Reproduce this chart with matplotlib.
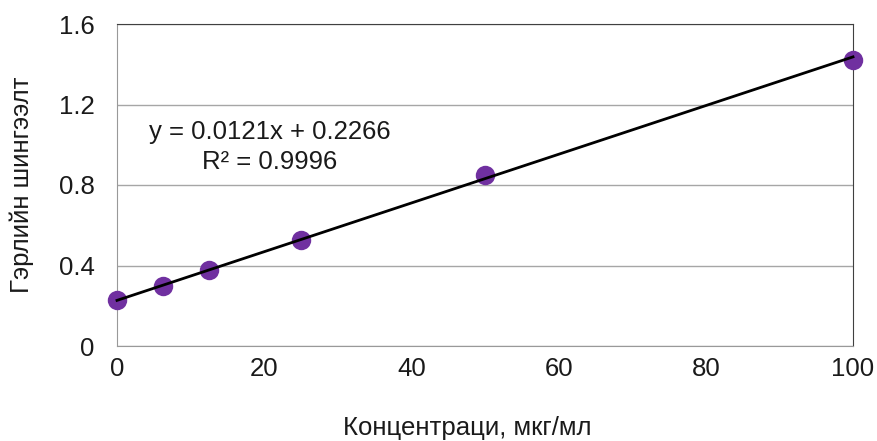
import numpy as np
import matplotlib.pyplot as plt

plt.rcParams['font.family'] = ['Liberation Sans', 'DejaVu Sans']

konc = [0, 6.25, 12.5, 25, 50, 100]
shingeelt = [0.229, 0.298, 0.378, 0.527, 0.851, 1.423]
x_ticks = [0, 20, 40, 60, 80, 100]
y_ticks = [0, 0.4, 0.8, 1.2, 1.6]
y_tick_labels = ["0", "0.4", "0.8", "1.2", "1.6"]

fs = 18.5
txt = "#1a1a1a"

fig = plt.figure(figsize=(8.78, 4.41), dpi=100)
ax = fig.add_axes([117 / 878, 1 - 346 / 441, (853 - 117) / 878, (346 - 24) / 441])

ax.set_xlim(0, 100)
ax.set_ylim(0, 1.6)
ax.set_xticks(x_ticks)
ax.set_yticks(y_ticks)
ax.set_yticklabels(y_tick_labels)
ax.tick_params(length=0, labelsize=fs, colors=txt)
ax.tick_params(axis="y", pad=16)
ax.tick_params(axis="x", pad=8)
ax.grid(axis="y", color="#a6a6a6", linewidth=1)
ax.set_axisbelow(True)
for side in ["left", "bottom"]:
    ax.spines[side].set_color("#999999")
for side in ["top", "right"]:
    ax.spines[side].set_color("#404040")

# линейн тренд
a, b = 0.0121, 0.2266
xs = np.array([0, 100])
ax.plot(konc, shingeelt, "o", color="#7030a0", markersize=14, markeredgewidth=0, zorder=3, clip_on=False)
ax.plot(xs, a * xs + b, color="black", linewidth=2, zorder=4, clip_on=False)

ax.text(20.7, 1.065, "y = 0.0121x + 0.2266", ha="center", va="center", fontsize=fs, color=txt)
ax.text(20.7, 0.915, "R² = 0.9996", ha="center", va="center", fontsize=fs, color=txt)

ax.set_xlabel("Концентраци, мкг/мл", fontsize=fs, color=txt, va="center")
ax.set_ylabel("Гэрлийн шингээлт", fontsize=fs, color=txt, va="center")
ax.xaxis.set_label_coords((467 - 117) / 736, (346 - 428) / 322)
ax.yaxis.set_label_coords((22 - 117) / 736, 0.5)

fig.savefig("out.png", dpi=100)
